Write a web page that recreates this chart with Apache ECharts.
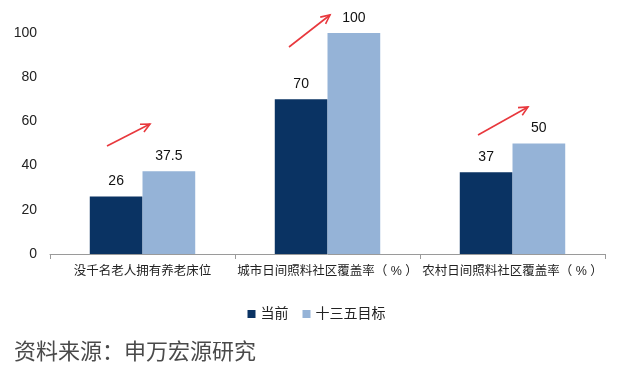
<!DOCTYPE html>
<html><head><meta charset="utf-8">
<script src="https://cdn.jsdelivr.net/npm/echarts@6/dist/echarts.min.js"></script>
<style>html,body{margin:0;padding:0;background:#fff}#c{width:633px;height:377px}</style>
</head><body><div id="c"></div>
<script>
const categories = ['没千名老人拥有养老床位', '城市日间照料社区覆盖率（ % ）', '农村日间照料社区覆盖率（ % ）'];
const currentValues = [26, 70, 37];
const targetValues = [37.5, 100, 50];
const seriesNames = ['当前', '十三五目标'];
const yTicks = { min: 0, max: 100, interval: 20 };

const FONT = '"Liberation Sans", "Noto Sans CJK SC", sans-serif';
const chart = echarts.init(document.getElementById('c'), null, { renderer: 'canvas' });

function arrow(x1, y1, x2, y2) {
  const ang = Math.atan2(y2 - y1, x2 - x1);
  const L = 10, a = 0.45;
  const h1 = [x2 - L * Math.cos(ang - a), y2 - L * Math.sin(ang - a)];
  const h2 = [x2 - L * Math.cos(ang + a), y2 - L * Math.sin(ang + a)];
  const st = { stroke: '#e8383d', lineWidth: 1.6, fill: null };
  return [
    { type: 'line', shape: { x1, y1, x2, y2 }, style: st, silent: true },
    { type: 'polyline', shape: { points: [h1, [x2, y2], h2] }, style: st, silent: true }
  ];
}

chart.setOption({
  animation: false,
  textStyle: { fontFamily: FONT },
  grid: { left: 50, right: 28, top: 33, bottom: 123 },
  legend: {
    top: 302, left: 'center',
    itemWidth: 8, itemHeight: 8, itemGap: 14,
    icon: 'rect',
    textStyle: { fontSize: 14, color: '#222', fontFamily: FONT },
    data: seriesNames
  },
  xAxis: {
    type: 'category', data: categories,
    axisLine: { lineStyle: { color: '#9a9a9a', width: 1 } },
    axisTick: { show: true, length: 5, lineStyle: { color: '#9a9a9a' } },
    axisLabel: { fontSize: 12.5, color: '#222', margin: 11, interval: 0, fontFamily: FONT }
  },
  yAxis: {
    type: 'value', min: yTicks.min, max: yTicks.max, interval: yTicks.interval,
    axisLine: { show: false }, axisTick: { show: false },
    splitLine: { show: false },
    axisLabel: { fontSize: 14, color: '#222', margin: 13, fontFamily: FONT }
  },
  series: [
    {
      name: seriesNames[0], type: 'bar', data: currentValues,
      barGap: '0%', barCategoryGap: '43%',
      itemStyle: { color: '#0a3363' },
      label: { show: true, position: 'top', distance: 8, fontSize: 14, color: '#111', fontFamily: FONT }
    },
    {
      name: seriesNames[1], type: 'bar', data: targetValues,
      barGap: '0%', barCategoryGap: '43%',
      itemStyle: { color: '#95b3d7' },
      label: { show: true, position: 'top', distance: 8, fontSize: 14, color: '#111', fontFamily: FONT }
    }
  ],
  graphic: [
    ...arrow(107, 146, 150, 124),
    ...arrow(289, 47, 330, 15),
    ...arrow(478, 135, 528, 107),
    {
      type: 'text', left: 14, top: 340, silent: true,
      style: { text: '资料来源：申万宏源研究', fontSize: 22, fill: '#4a4a4a', fontFamily: '"Noto Sans CJK SC", sans-serif' }
    }
  ]
});
</script></body></html>
